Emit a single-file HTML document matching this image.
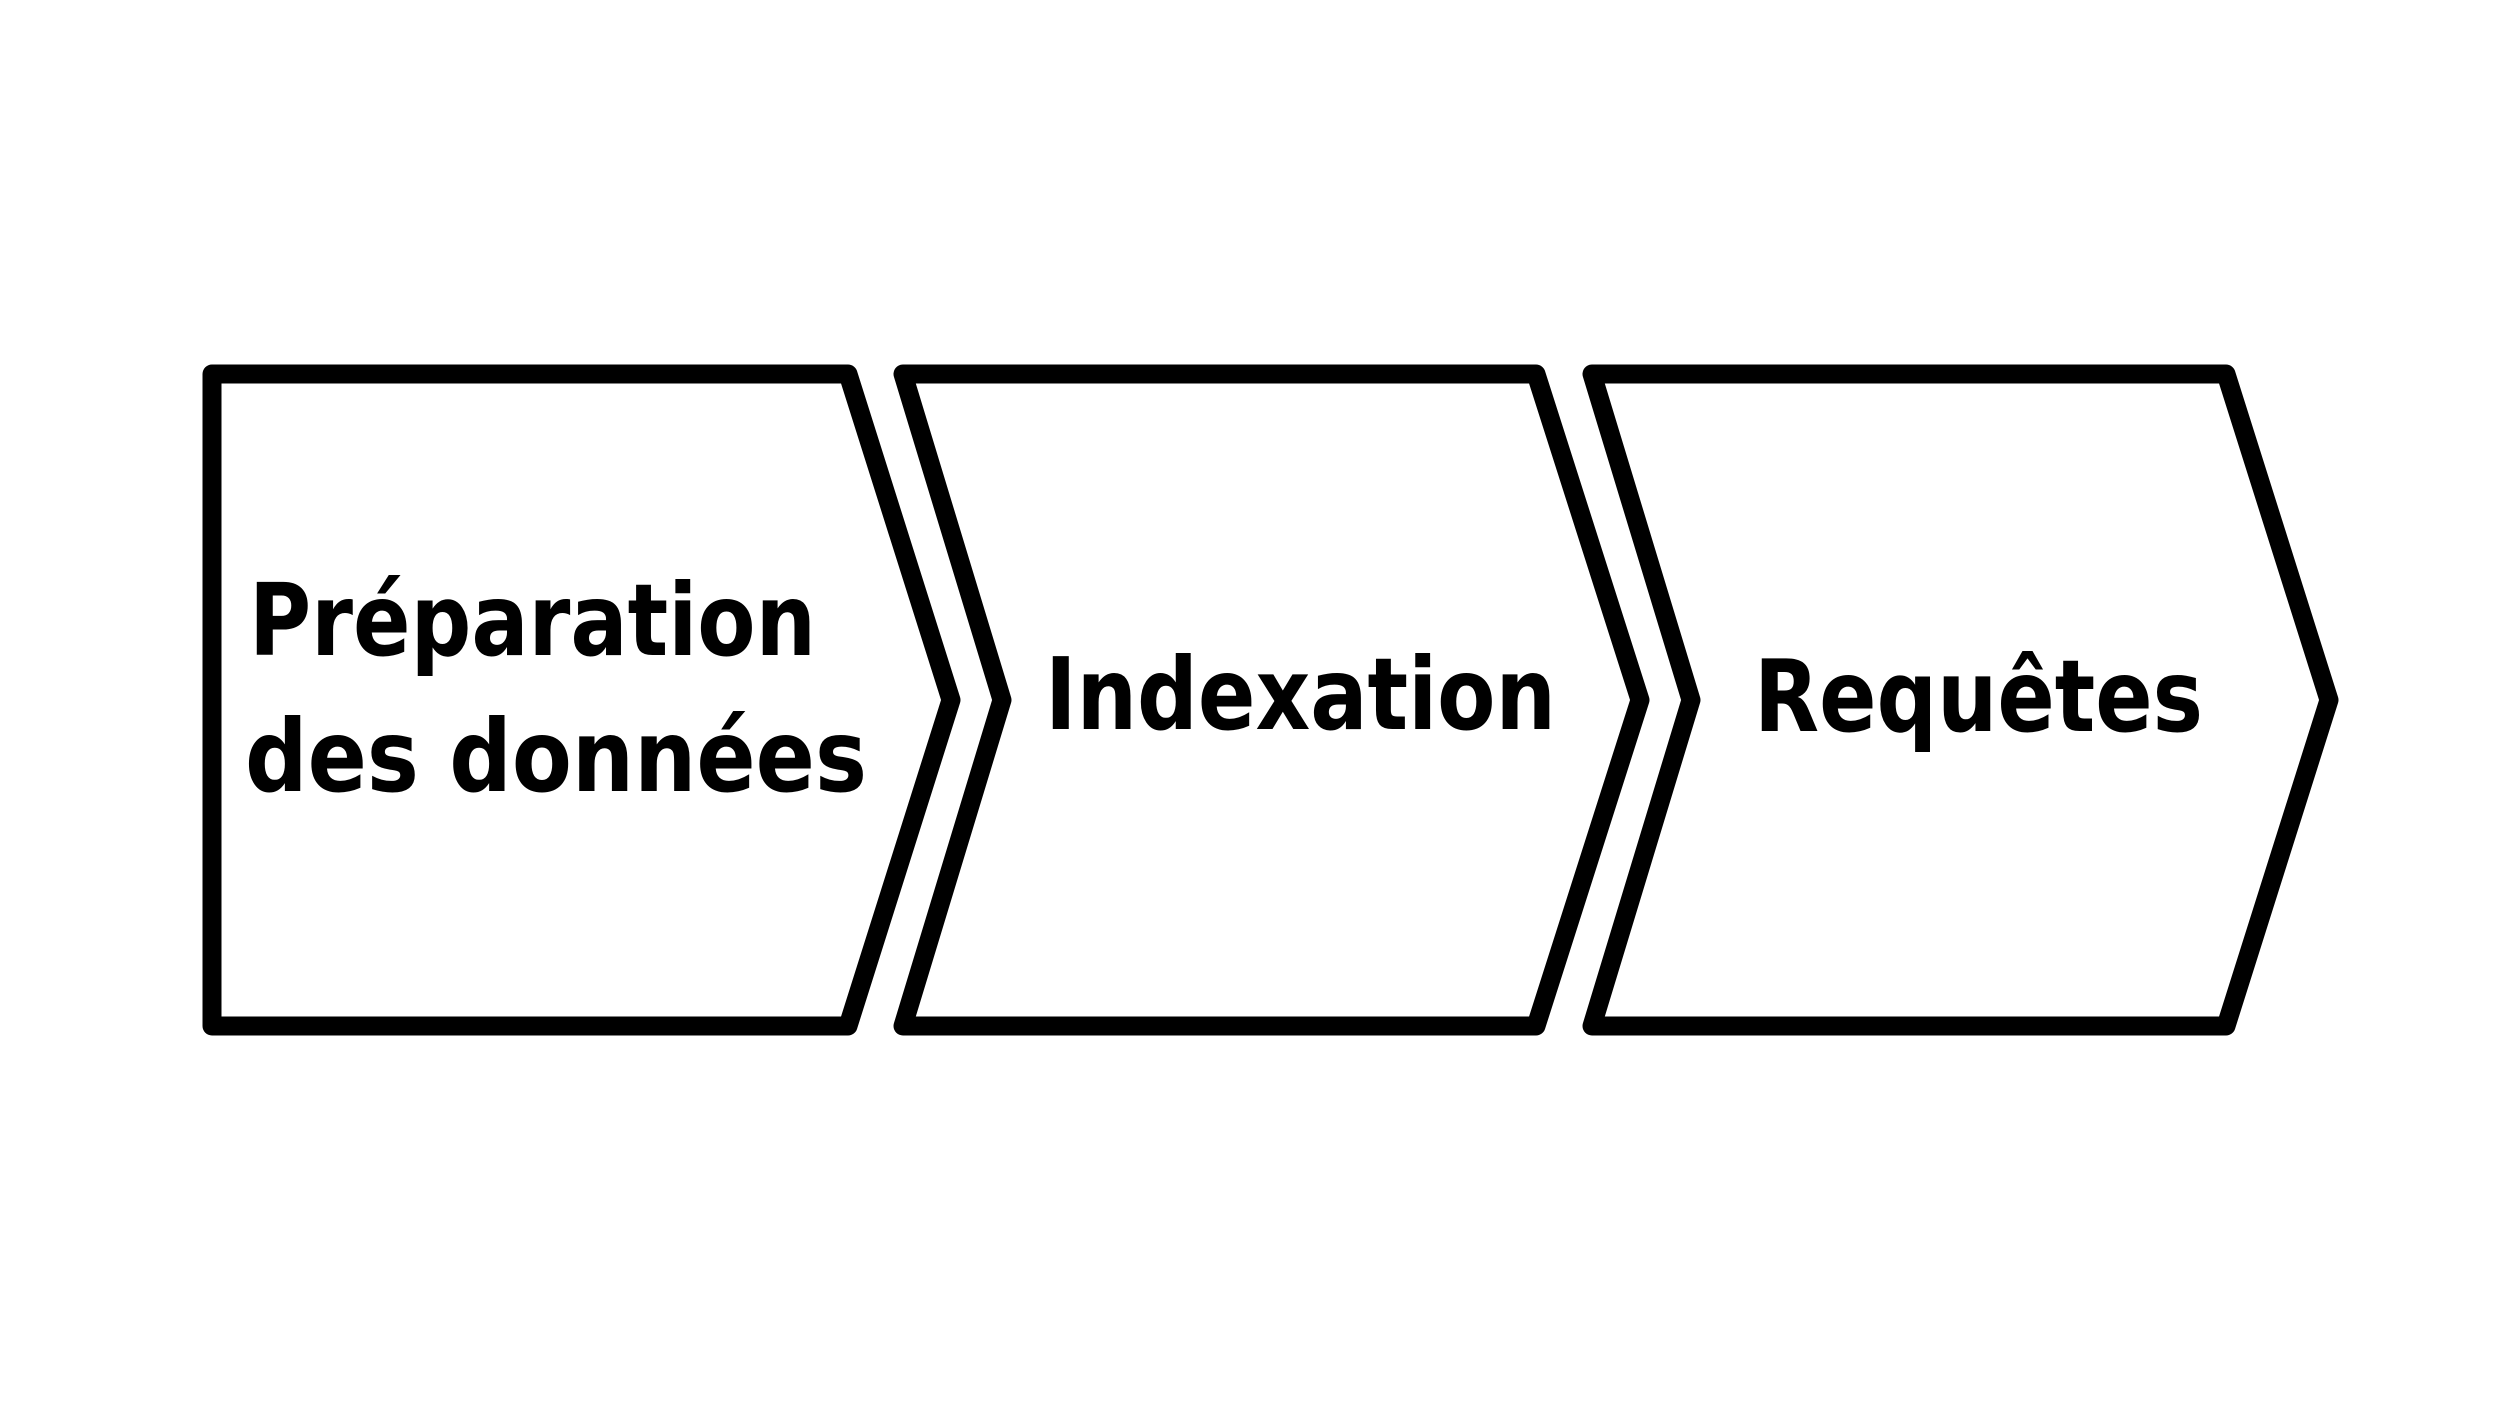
<!DOCTYPE html>
<html><head><meta charset="utf-8"><style>
html,body{margin:0;padding:0;background:#fff;}
svg{display:block;}
text{font-family:"DejaVu Sans Condensed","DejaVu Sans","Liberation Sans",sans-serif;font-stretch:condensed;font-weight:bold;font-size:100px;fill:#000;}
</style></head><body>
<svg width="2520" height="1417" viewBox="0 0 2520 1417" xmlns="http://www.w3.org/2000/svg">
<rect width="2520" height="1417" fill="#fff"/>
<g fill="none" stroke="#000" stroke-width="19" stroke-linejoin="round">
<polygon points="212,374 848,374 951,700 848,1026 212,1026"/>
<polygon points="903,374 1536,374 1640,700 1536,1026 903,1026 1002,700"/>
<polygon points="1592,374 2226,374 2329,700 2226,1026 1592,1026 1691,700"/>
</g>
<text x="249" y="655" textLength="567" lengthAdjust="spacingAndGlyphs">Préparation</text>
<text x="245" y="791" textLength="622" lengthAdjust="spacingAndGlyphs">des données</text>
<text x="1045" y="729" textLength="511" lengthAdjust="spacingAndGlyphs">Indexation</text>
<text x="1754" y="731" textLength="449" lengthAdjust="spacingAndGlyphs">Requêtes</text>
</svg>
</body></html>
